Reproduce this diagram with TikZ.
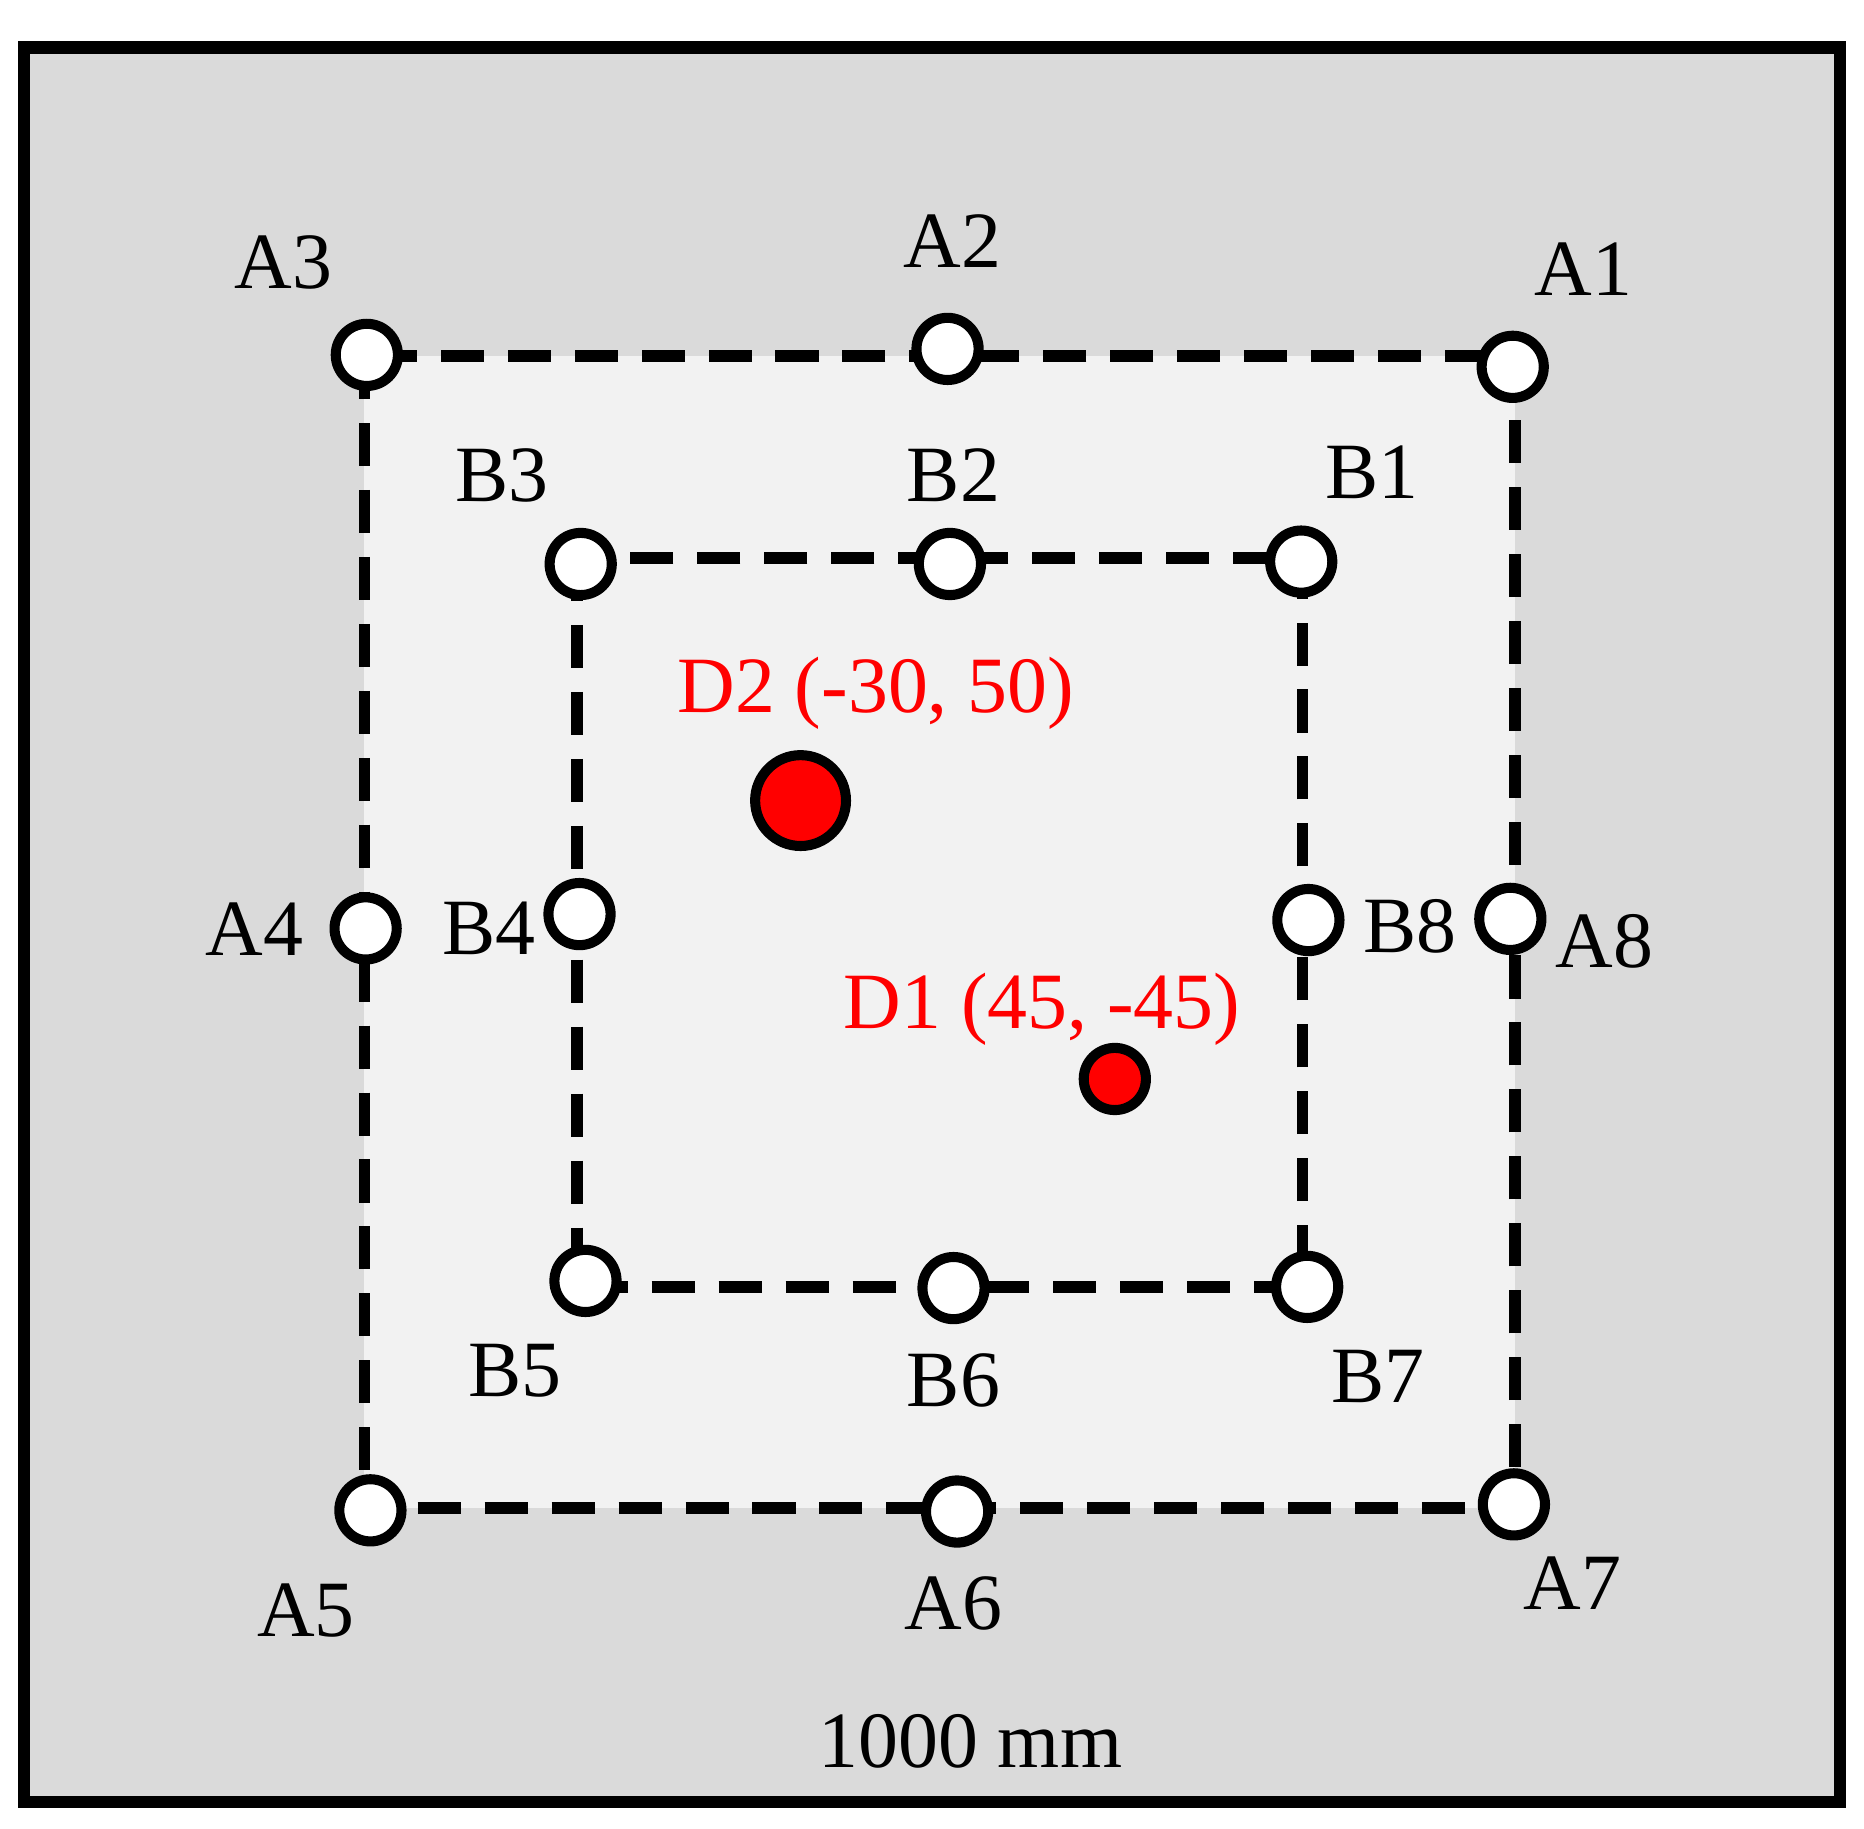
\documentclass[tikz,border=0pt]{standalone}
\usepackage{fontspec}
\setmainfont{Liberation Serif}
\definecolor{outergray}{RGB}{218,218,218}
\definecolor{innergray}{RGB}{242,242,242}
\begin{document}
\begin{tikzpicture}[x=0.01cm,y=-0.01cm,
  pt/.style={circle,draw=black,line width=2.4pt,fill=white,minimum size=0.52cm,inner sep=0pt},
  lbl/.style={font=\fontsize{19}{19}\selectfont},
  rlbl/.style={font=\fontsize{19}{19}\selectfont,text=red},
  dline/.style={line width=2.8pt,dash pattern=on 0.36cm off 0.2cm}]
\useasboundingbox (0,0) rectangle (1560,1530);
\fill[white] (0,0) rectangle (1560,1530);
\draw[line width=3pt,fill=outergray] (20,40) rectangle (1540,1508);
\fill[innergray] (305,298) rectangle (1268,1262);
\coordinate (OTL) at (305,298);
\coordinate (OBR) at (1268,1262);
\coordinate (ITL) at (483,467);
\coordinate (IBR) at (1090,1077);
\draw[dline] (OTL) rectangle (OBR);
\draw[dline] (ITL) rectangle (IBR);
\foreach \n/\x/\y in {A3/307/297,A2/793/292,A1/1266/307,A4/306/777,A8/1264/769,A5/310/1264,A6/801/1265,A7/1267/1259,B3/486/472,B2/795/472,B1/1089/470,B4/485/765,B8/1095/770,B5/490/1072,B6/798/1078,B7/1094/1077}
  \node[pt] (\n) at (\x,\y) {};
\node[circle,draw=black,line width=2.4pt,fill=red,minimum size=0.76cm,inner sep=0pt] (D2) at (670,670) {};
\node[circle,draw=black,line width=2.4pt,fill=red,minimum size=0.52cm,inner sep=0pt] (D1) at (933,903) {};
\node[lbl] (lA3) at (237,220) {A3};
\node[lbl] (lA2) at (797,202) {A2};
\node[lbl] (lA1) at (1325,225) {A1};
\node[lbl] (lA4) at (213,778) {A4};
\node[lbl] (lA8) at (1343,788) {A8};
\node[lbl] (lA5) at (256,1348) {A5};
\node[lbl] (lA6) at (798,1342) {A6};
\node[lbl] (lA7) at (1316,1325) {A7};
\node[lbl] (lB3) at (420,398) {B3};
\node[lbl] (lB2) at (798,398) {B2};
\node[lbl] (lB1) at (1148,395) {B1};
\node[lbl] (lB4) at (409,777) {B4};
\node[lbl] (lB8) at (1180,775) {B8};
\node[lbl] (lB5) at (431,1147) {B5};
\node[lbl] (lB6) at (798,1155) {B6};
\node[lbl] (lB7) at (1153,1152) {B7};
\node[rlbl] (lD2) at (733,580) {D2 (-30, 50)};
\node[rlbl] (lD1) at (872,845) {D1 (45, -45)};
\node[lbl] (dim) at (812,1457) {1000 mm};
\end{tikzpicture}
\end{document}
